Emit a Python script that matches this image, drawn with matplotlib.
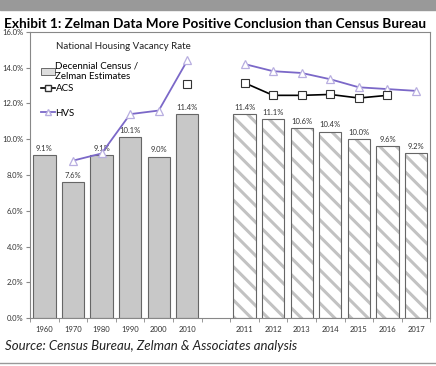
import matplotlib.pyplot as plt
import numpy as np
from matplotlib.ticker import FixedLocator
from matplotlib.patches import Patch
from matplotlib.lines import Line2D

plt.rcParams['font.family'] = ['Lato', 'DejaVu Sans']
plt.rcParams['hatch.linewidth'] = 2.2

years = ['1960', '1970', '1980', '1990', '2000', '2010', '',
         '2011', '2012', '2013', '2014', '2015', '2016', '2017']
census = [9.1, 7.6, 9.1, 10.1, 9.0, 11.4, None,
          None, None, None, None, None, None, None]
zelman = [None, None, None, None, None, None, None,
          11.4, 11.1, 10.6, 10.4, 10.0, 9.6, 9.2]
hvs = [None, 8.8, 9.2, 11.4, 11.6, 14.4, None,
       14.2, 13.8, 13.7, 13.35, 12.9, 12.8, 12.7]
acs = [None, None, None, None, None, 13.1, None,
       13.15, 12.45, 12.45, 12.5, 12.3, 12.45, None]

x = np.arange(len(years))
fig = plt.figure(figsize=(4.36, 3.66), dpi=100)
ax = fig.add_axes([0.069, 0.131, 0.918, 0.782])

w = 0.78
for i, v in enumerate(census):
    if v is not None:
        ax.bar(x[i], v, w, color='#c8c8c8', edgecolor='#666666', linewidth=0.8, zorder=2)
        ax.text(x[i], v + 0.2, f'{v:.1f}%', ha='center', va='bottom', fontsize=5.5, color='#333333')
for i, v in enumerate(zelman):
    if v is not None:
        ax.bar(x[i], v, w, color='white', edgecolor='#c2c2c2', hatch='\\\\', linewidth=0, zorder=2)
        ax.bar(x[i], v, w, fill=False, edgecolor='#666666', linewidth=0.8, zorder=3)
        ax.text(x[i], v + 0.2, f'{v:.1f}%', ha='center', va='bottom', fontsize=5.5, color='#333333')

def segs(vals):
    out, cur = [], []
    for i, v in enumerate(vals):
        if v is None:
            if cur:
                out.append(cur)
            cur = []
        else:
            cur.append((x[i], v))
    if cur:
        out.append(cur)
    return out

for s in segs(hvs):
    xs, ys = zip(*s)
    ax.plot(xs, ys, color='#7b68c8', lw=1.3, marker='^', ms=6, mfc='white',
            mec='#b8aee0', mew=0.9, zorder=4)
for s in segs(acs):
    xs, ys = zip(*s)
    ls = '-' if len(s) > 1 else 'none'
    ax.plot(xs, ys, color='black', lw=1.2, ls=ls, marker='s', ms=5.5, mfc='white',
            mec='#333333', mew=0.8, zorder=4)

ax.set_xlim(-0.5, len(years) - 0.5)
ax.set_ylim(0, 16)
ax.set_yticks(np.arange(0, 17, 2))
ax.set_yticklabels([f'{t:.1f}%' for t in np.arange(0, 17, 2)], fontsize=5.5, color='#333333')
ax.set_xticks(x)
ax.set_xticklabels(years, fontsize=5.5, color='#333333')
ax.tick_params(axis='x', length=0, pad=6)
ax.tick_params(axis='y', length=3, color='#888888', pad=2)
ax.xaxis.set_minor_locator(FixedLocator(np.arange(-0.5, len(years), 1)))
ax.tick_params(axis='x', which='minor', length=3, color='#888888')
for sp in ax.spines.values():
    sp.set_color('#888888')
    sp.set_linewidth(0.8)

# legend split so spacing matches the original
leg1 = ax.legend([Patch(facecolor='#dddddd', edgecolor='#555555', linewidth=0.6),
                  Line2D([], [], color='black', lw=1.2, marker='s', ms=4.5, mfc='white', mec='#333333')],
                 ['Decennial Census /\nZelman Estimates', 'ACS'],
                 loc='upper left', bbox_to_anchor=(0.01, 0.92), frameon=False, fontsize=7,
                 handlelength=1.4, handletextpad=0.1, labelspacing=0.35, borderpad=0.2)
ax.add_artist(leg1)
ax.legend([Line2D([], [], color='#7b68c8', lw=1.3, marker='^', ms=5, mfc='white', mec='#b8aee0')],
          ['HVS'], loc='upper left', bbox_to_anchor=(0.01, 0.755), frameon=False, fontsize=7,
          handlelength=1.4, handletextpad=0.1, borderpad=0.2)
ax.text(0.065, 0.965, 'National Housing Vacancy Rate', transform=ax.transAxes,
        fontsize=7, color='#222222', va='top')

fig.patches.append(plt.Rectangle((0, 0.972), 1, 0.03, transform=fig.transFigure,
                                 color='#999999', zorder=0))
fig.text(0.01, 0.95, 'Exhibit 1: Zelman Data More Positive Conclusion than Census Bureau',
         fontsize=9.8, fontweight='bold', va='top')
fig.text(0.012, 0.055, 'Source: Census Bureau, Zelman & Associates analysis',
         fontsize=9.5, style='italic', va='center', color='#222222')
fig.lines.append(Line2D([0, 1], [0.007, 0.007], transform=fig.transFigure,
                        color='#999999', lw=1))

fig.savefig('out.png', dpi=100)
